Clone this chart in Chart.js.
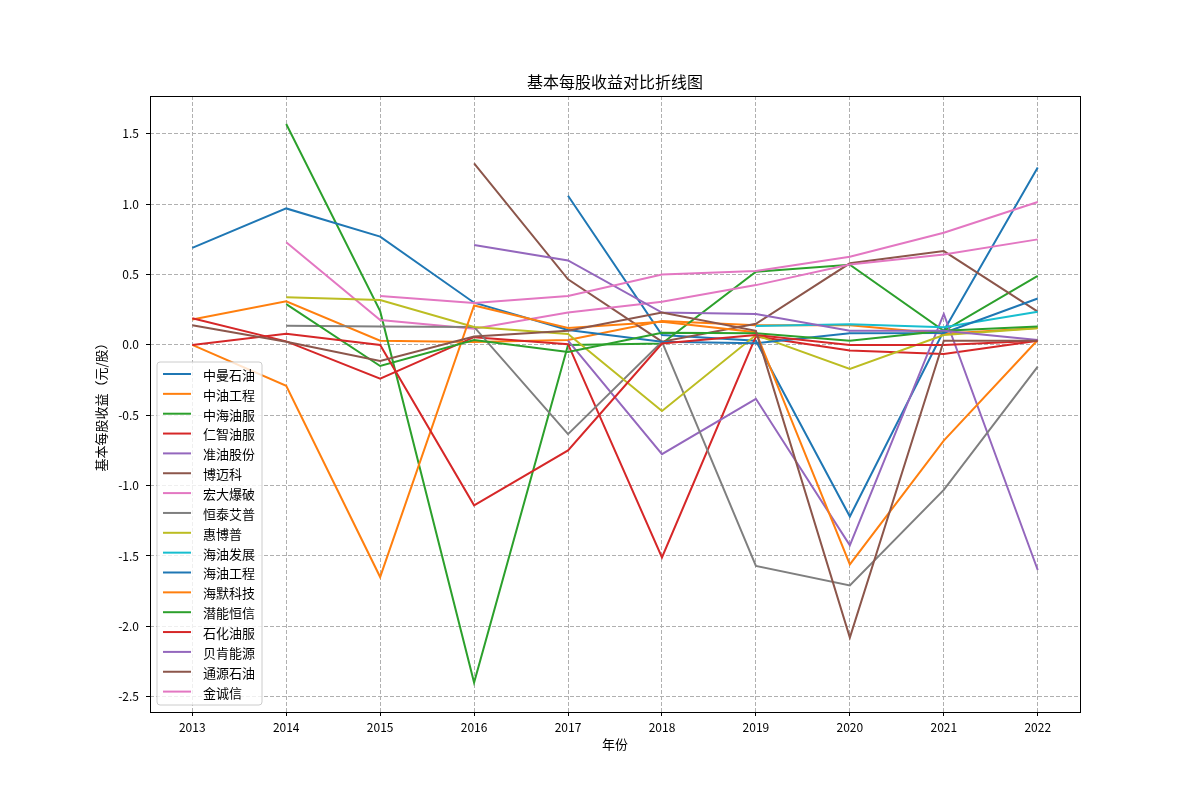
<!DOCTYPE html>
<html>
<head>
<meta charset="utf-8">
<script src="https://cdn.jsdelivr.net/npm/chart.js@4.4.1/dist/chart.umd.min.js"></script>
<style>
  html, body { margin: 0; padding: 0; background: #fff; }
  #wrap { width: 1200px; height: 800px; }
</style>
</head>
<body>
<div id="wrap"><canvas id="eps-chart" width="1200" height="800"></canvas></div>
<script>
// years on the x axis and the tick labels
const years = [2013, 2014, 2015, 2016, 2017, 2018, 2019, 2020, 2021, 2022];
const yTickValues = [-2.5, -2.0, -1.5, -1.0, -0.5, 0.0, 0.5, 1.0, 1.5];

const companies = ['中曼石油', '中油工程', '中海油服', '仁智油服', '准油股份', '博迈科', '宏大爆破', '恒泰艾普',
  '惠博普', '海油发展', '海油工程', '海默科技', '潜能恒信', '石化油服', '贝肯能源', '通源石油', '金诚信'];

// basic EPS per company, 2013..2022 (null = no data)
const zhongman    = [null, null, null, null, 1.06, 0.07, 0.03, -1.22, 0.10, 1.26];
const zhongyouGc  = [0.18, 0.31, 0.03, 0.02, 0.035, 0.17, 0.14, 0.14, 0.08, 0.12];
const zhonghaiYf  = [null, 1.57, 0.24, -2.40, 0.00, 0.01, 0.52, 0.57, 0.10, 0.49];
const renzhi      = [0.19, 0.025, -0.24, 0.055, 0.005, -1.51, 0.06, -0.04, -0.065, 0.03];
const zhunyou     = [null, null, null, null, 0.03, -0.777, -0.383, -1.425, 0.22, -1.60];
const bomaike     = [null, null, null, 1.29, 0.466, 0.023, 0.15, 0.58, 0.667, 0.236];
const hongda      = [null, 0.73, 0.177, 0.115, 0.23, 0.307, 0.425, 0.572, 0.643, 0.75];
const hengtai     = [null, 0.137, 0.13, 0.128, -0.634, 0.023, -1.571, -1.71, -1.03, -0.154];
const huibopu     = [null, 0.338, 0.319, 0.128, 0.078, -0.47, 0.07, -0.17, 0.07, 0.118];
const haiyouFz    = [null, null, null, null, null, null, 0.135, 0.147, 0.125, 0.236];
const haiyouGc    = [0.69, 0.97, 0.77, 0.30, 0.106, 0.023, 0.012, 0.083, 0.085, 0.33];
const haimo       = [0.00, -0.29, -1.65, 0.28, 0.12, 0.165, 0.09, -1.56, -0.68, 0.035];
const qianneng    = [null, 0.29, -0.15, 0.035, -0.05, 0.087, 0.083, 0.03, 0.10, 0.13];
const shihua      = [0.00, 0.08, 0.00, -1.14, -0.75, 0.01, 0.07, 0.00, 0.00, 0.03];
const beiken      = [null, null, null, 0.71, 0.60, 0.23, 0.22, 0.10, 0.10, 0.035];
const tongyuan    = [0.14, 0.023, -0.114, 0.06, 0.10, 0.23, 0.10, -2.08, 0.03, 0.03];
const jinchengxin = [null, null, 0.347, 0.297, 0.347, 0.50, 0.525, 0.626, 0.797, 1.016];

const seriesValues = [zhongman, zhongyouGc, zhonghaiYf, renzhi, zhunyou, bomaike, hongda, hengtai,
  huibopu, haiyouFz, haiyouGc, haimo, qianneng, shihua, beiken, tongyuan, jinchengxin];

// matplotlib tab10 cycle
const palette = ['#1f77b4', '#ff7f0e', '#2ca02c', '#d62728', '#9467bd',
  '#8c564b', '#e377c2', '#7f7f7f', '#bcbd22', '#17becf'];

const CJK = '"Noto Sans CJK SC", "Noto Sans", sans-serif';

const datasets = companies.map((name, i) => ({
  label: name,
  data: years.map((yr, j) => ({ x: yr, y: seriesValues[i][j] })),
  borderColor: palette[i % palette.length],
  backgroundColor: palette[i % palette.length],
  borderWidth: 2,
  pointRadius: 0,
  tension: 0,
  spanGaps: false,
  order: -i,   // later series on top, like matplotlib
}));

// frame, title, axis titles and the legend box inside the plot
const decorations = {
  id: 'decorations',
  afterDraw(chart) {
    const { ctx, chartArea: a } = chart;
    ctx.save();

    ctx.strokeStyle = '#000';
    ctx.lineWidth = 1;
    ctx.strokeRect(a.left + 0.5, a.top + 0.5, a.right - a.left, a.bottom - a.top);

    ctx.fillStyle = '#000';
    ctx.textAlign = 'center';
    ctx.textBaseline = 'middle';
    ctx.font = '16px ' + CJK;
    ctx.fillText('基本每股收益对比折线图', (a.left + a.right) / 2, 82);

    ctx.font = '13px ' + CJK;
    ctx.fillText('年份', (a.left + a.right) / 2, 744);

    ctx.save();
    ctx.translate(101, (a.top + a.bottom) / 2);
    ctx.rotate(-Math.PI / 2);
    ctx.fillText('基本每股收益（元/股）', 0, 0);
    ctx.restore();

    // legend
    const bx = 157, by = 362, bw = 105, bh = 343, r = 3;
    ctx.beginPath();
    ctx.moveTo(bx + r, by);
    ctx.arcTo(bx + bw, by, bx + bw, by + bh, r);
    ctx.arcTo(bx + bw, by + bh, bx, by + bh, r);
    ctx.arcTo(bx, by + bh, bx, by, r);
    ctx.arcTo(bx, by, bx + bw, by, r);
    ctx.closePath();
    ctx.fillStyle = 'rgba(255,255,255,0.8)';
    ctx.fill();
    ctx.strokeStyle = '#cccccc';
    ctx.stroke();

    ctx.textAlign = 'left';
    chart.data.datasets.forEach((ds, i) => {
      const y = 374 + i * 19.85;
      ctx.strokeStyle = ds.borderColor;
      ctx.lineWidth = 2;
      ctx.beginPath();
      ctx.moveTo(163, y);
      ctx.lineTo(191, y);
      ctx.stroke();
      ctx.fillStyle = '#000';
      ctx.fillText(ds.label, 203, y + 1);
    });

    ctx.restore();
  },
};

const gridStyle = {
  color: '#b0b0b0',
  lineWidth: 1,
  drawTicks: true,
  tickLength: 4,
  tickColor: '#000',
  tickWidth: 1,
};

new Chart(document.getElementById('eps-chart'), {
  type: 'line',
  data: { datasets },
  plugins: [decorations],
  options: {
    responsive: false,
    animation: false,
    devicePixelRatio: 1,
    layout: { padding: { left: 0, right: 120, top: 96, bottom: 0 } },
    plugins: {
      legend: { display: false },
      title: { display: false },
      tooltip: { enabled: false },
    },
    scales: {
      x: {
        type: 'linear',
        min: 2012.55,
        max: 2022.45,
        afterFit: (s) => { s.height = 88; },
        afterBuildTicks: (s) => { s.ticks = years.map((v) => ({ value: v })); },
        grid: gridStyle,
        border: { display: false, dash: [4, 2] },
        ticks: {
          color: '#000',
          padding: 4,
          font: { family: CJK, size: 12 },
          callback: (v) => String(v),
        },
      },
      y: {
        type: 'linear',
        min: -2.609,
        max: 1.769,
        afterFit: (s) => { s.width = 150; },
        afterBuildTicks: (s) => { s.ticks = yTickValues.map((v) => ({ value: v })); },
        grid: gridStyle,
        border: { display: false, dash: [4, 2] },
        ticks: {
          color: '#000',
          padding: 7,
          font: { family: CJK, size: 12 },
          callback: (v) => Number(v).toFixed(1),
        },
      },
    },
  },
});
</script>
</body>
</html>
